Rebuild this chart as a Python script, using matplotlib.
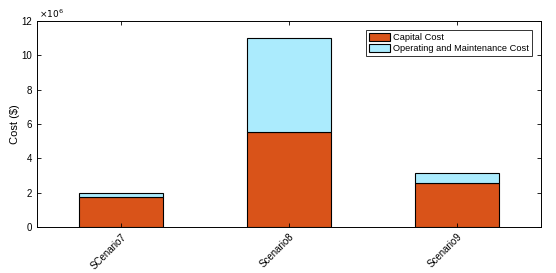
import matplotlib
matplotlib.use("Agg")
import matplotlib.pyplot as plt
import numpy as np

plt.rcParams['font.family'] = ['Liberation Sans', 'DejaVu Sans']

categories = ['SCenario7', 'Scenario8', 'Scenario9']
capital = [1.73e6, 5.53e6, 2.54e6]
om = [0.25e6, 5.50e6, 0.59e6]
series_names = ['Capital Cost', 'Operating and Maintenance Cost']

fig = plt.figure(figsize=(5.56, 2.73), dpi=100)
ax = fig.add_axes([37/556, 1-227/273, 504/556, 206/273])
x = np.arange(1, len(categories)+1)
scale = 1e6
ax.bar(x, np.array(capital)/scale, width=0.5, color='#D95319', edgecolor='black', linewidth=0.8, label=series_names[0])
ax.bar(x, np.array(om)/scale, bottom=np.array(capital)/scale, width=0.5, color='#ABEBFD', edgecolor='black', linewidth=0.8, label=series_names[1])
ax.set_xlim(0.5, 3.5)
ax.set_ylim(0, 12)
ax.set_yticks(np.arange(0, 13, 2))
ax.set_xticks(x)
ax.set_xticklabels(categories, rotation=45, ha='right', rotation_mode='anchor', fontsize=7)
ax.tick_params(axis='both', direction='in', top=True, right=True, labelsize=7, length=3, width=0.6)
ax.set_ylabel('Cost ($)', fontsize=8, labelpad=1)
for s in ax.spines.values():
    s.set_linewidth(0.7)
ax.text(0.003, 1.005, r'$\times10^6$', transform=ax.transAxes, fontsize=6.5, va='bottom', ha='left')
leg = ax.legend(loc='upper right', bbox_to_anchor=(0.982, 0.956), fontsize=6.7, frameon=True, fancybox=False,
                edgecolor='black', handlelength=2.3, handleheight=1.0, borderpad=0.3, labelspacing=0.15, handletextpad=0.3,
                borderaxespad=0)
leg.get_frame().set_linewidth(0.7)
fig.savefig('out.png', dpi=100)
